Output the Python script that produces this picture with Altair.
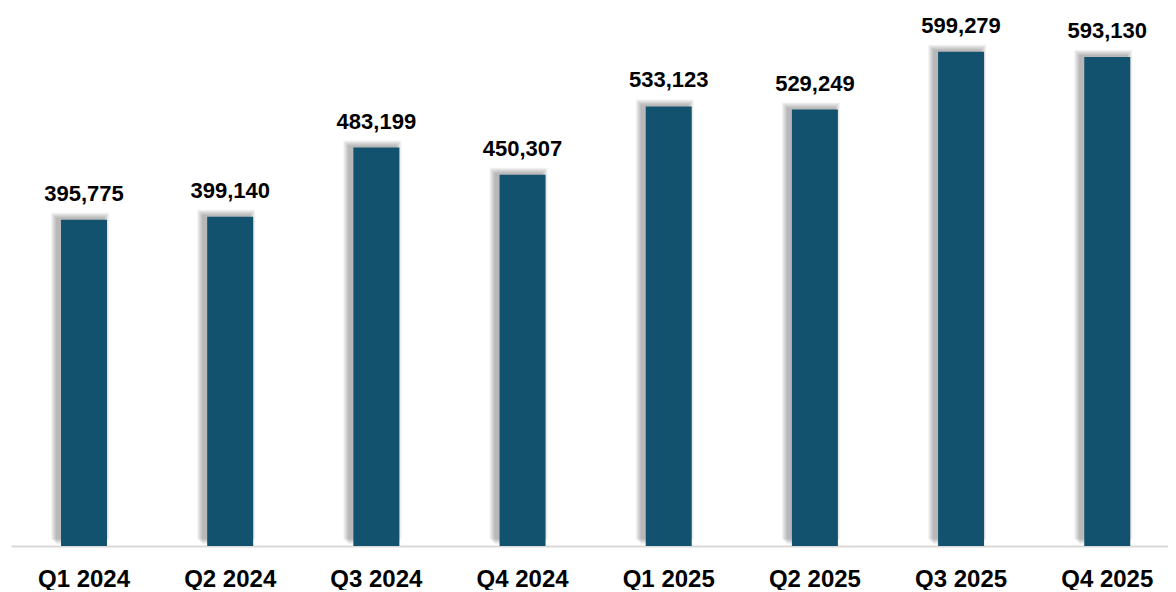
import altair as alt
import pandas as pd

quarters = ["Q1 2024", "Q2 2024", "Q3 2024", "Q4 2024", "Q1 2025", "Q2 2025", "Q3 2025", "Q4 2025"]
values = [395775, 399140, 483199, 450307, 533123, 529249, 599279, 593130]

df = pd.DataFrame({"quarter": quarters, "value": values})

BAR_COLOR = "#13526f"
BAR_W = 46

x_enc = alt.X(
    "quarter:N",
    sort=quarters,
    scale=alt.Scale(paddingInner=0.685, paddingOuter=0.30, align=0.57, round=False),
    axis=alt.Axis(
        title=None, labelAngle=0, ticks=False, labelPadding=21,
        labelFont="Liberation Sans", labelFontWeight="bold", labelFontSize=24,
        labelColor="#000000", domainColor="#d9d9d9", domainWidth=2, grid=False,
    ),
)
y_enc = alt.Y("value:Q", scale=alt.Scale(domain=[0, 650000], nice=False, zero=True), axis=None)

base = alt.Chart(df).encode(x=x_enc, y=y_enc)

layers = []
# soft shadow layers (blur imitation)
for k in range(1, 7):
    layers.append(
        base.mark_bar(
            color="#000000", opacity=0.05, width=BAR_W + 2 * k,
            xOffset=-4, yOffset=-1 - k, y2Offset=0,
        )
    )

bars = base.mark_bar(color=BAR_COLOR, width=BAR_W)
labels = base.mark_text(
    baseline="alphabetic", dy=-19, font="Liberation Sans", fontWeight="bold",
    fontSize=22, color="#000000",
).encode(text=alt.Text("value:Q", format=","))

chart = (
    alt.layer(*layers, bars, labels)
    .properties(width=1157, height=536, padding={"left": 3, "top": 2, "right": 0, "bottom": 44}, autosize="none")
    .configure_view(stroke=None)
    .configure_axis(grid=False)
)

chart.save("out.html", embed_options={"renderer": "svg", "actions": False})
